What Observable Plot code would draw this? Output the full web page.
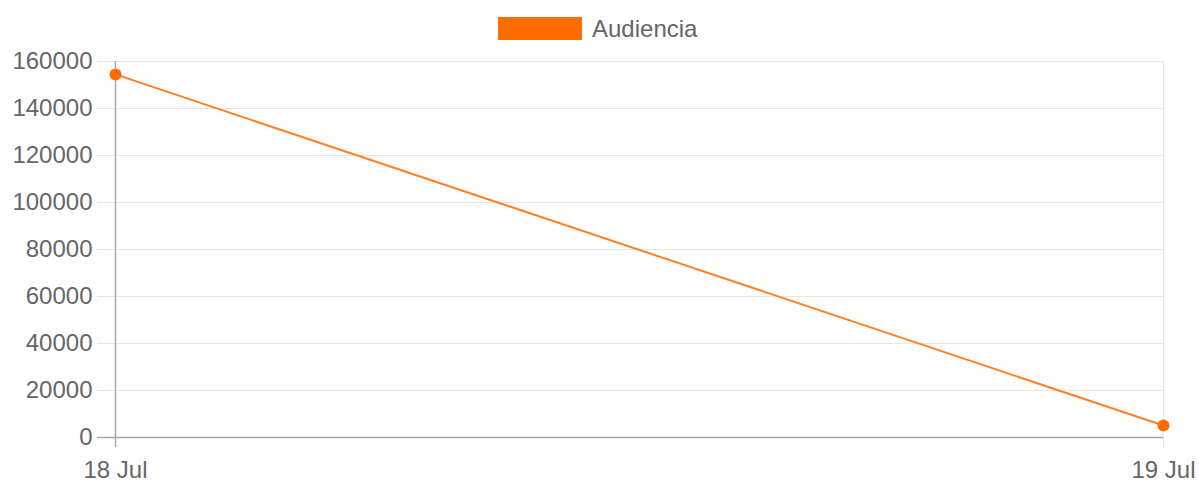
<!DOCTYPE html>
<html>
<head>
<meta charset="utf-8">
<script src="https://cdn.jsdelivr.net/npm/d3@7"></script>
<script src="https://cdn.jsdelivr.net/npm/@observablehq/plot@0.6"></script>
<style>
  body { margin: 0; background: #fff; font-family: "Liberation Sans", Arial, sans-serif; }
  #legend { height: 50px; position: relative; }
  #legend .sw { position: absolute; left: 498px; top: 17px; width: 84px; height: 23px; background: #ff6d00; }
  #legend .lb { position: absolute; left: 592px; top: 14px; font-size: 24px; color: #666; line-height: 30px; }
</style>
</head>
<body>
<div id="legend"><div class="sw"></div><div class="lb">Audiencia</div></div>
<div id="chart"></div>
<script>
const seriesName = "Audiencia";
const dates = ["18 Jul", "19 Jul"];
const values = [154500, 5100];
const yTicks = [0, 20000, 40000, 60000, 80000, 100000, 120000, 140000, 160000];

const data = dates.map((d, i) => ({date: d, value: values[i]}));
const grid = "#e6e6e6";
const axis = "#aaaaaa";

const chart = Plot.plot({
  width: 1199,
  height: 433,
  marginTop: 11,
  marginBottom: 46,
  marginLeft: 115,
  marginRight: 36,
  style: {fontFamily: "'Liberation Sans', Arial, sans-serif", fontSize: "24px", color: "#666", background: "#fff"},
  x: {type: "point", domain: dates, padding: 0, axis: null},
  y: {domain: [0, 160000], axis: null},
  marks: [
    Plot.ruleY(yTicks.filter(t => t > 0), {y: d => d, stroke: grid, strokeWidth: 1, insetLeft: -18}),
    Plot.ruleX([dates[1]], {x: d => d, stroke: grid, strokeWidth: 1, insetBottom: -10}),
    Plot.ruleY([0], {y: d => d, stroke: axis, strokeWidth: 1.5, insetLeft: -18}),
    Plot.ruleX([dates[0]], {x: d => d, stroke: axis, strokeWidth: 1.5, insetBottom: -10}),
    Plot.text(yTicks, {x: () => dates[0], y: d => d, text: d => String(d), textAnchor: "end", dx: -23, fill: "#666", fontSize: 24}),
    Plot.text(dates, {x: d => d, y: () => 0, text: d => d, textAnchor: "middle", dy: 33, fill: "#666", fontSize: 24}),
    Plot.line(data, {x: "date", y: "value", stroke: "#ff8126", strokeWidth: 2}),
    Plot.dot(data, {x: "date", y: "value", r: 6, fill: "#ff6d00", stroke: "none"})
  ]
});
chart.style.overflow = "visible";
document.getElementById("chart").appendChild(chart);
</script>
</body>
</html>
